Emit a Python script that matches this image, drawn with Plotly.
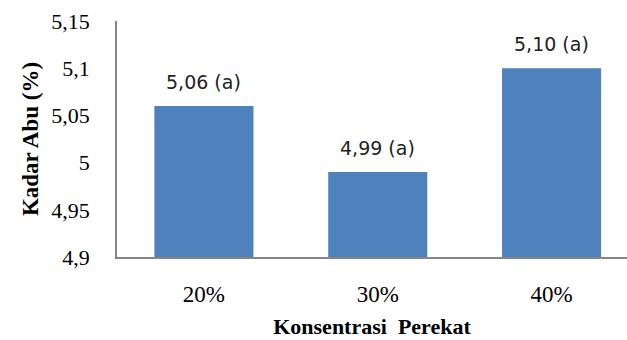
import plotly.graph_objects as go

categories = ["20%", "30%", "40%"]
values = [5.06, 4.99, 5.10]
labels = ["5,06 (a)", "4,99 (a)", "5,10 (a)"]
yticks = [4.9, 4.95, 5.0, 5.05, 5.1, 5.15]
yticktext = ["4,9", "4,95", "5", "5,05", "5,1", "5,15"]

fig = go.Figure()
fig.add_trace(go.Bar(x=categories, y=values, marker_color="#4F81BD",
                     marker_line_width=0, width=0.57))

for c, v, t in zip(categories, values, labels):
    fig.add_annotation(x=c, y=v, text=t, showarrow=False, yanchor="bottom",
                       yshift=11, font=dict(family="DejaVu Sans", size=19, color="#222"))

serif = "Liberation Serif"
fig.update_layout(
    width=627, height=340,
    margin=dict(l=117, r=0, t=21, b=83),
    plot_bgcolor="white", paper_bgcolor="white",
    showlegend=False,
    xaxis=dict(range=[-0.5, 2.434], showline=True, linecolor="#868686", linewidth=1.5,
               ticks="outside", ticklen=16, tickcolor="rgba(0,0,0,0)",
               tickfont=dict(family=serif, size=23, color="black"),
               title=dict(text="<b>Konsentrasi  Perekat</b>", font=dict(family=serif, size=22, color="black"), standoff=12),
               showgrid=False, mirror=False),
    yaxis=dict(range=[4.9, 5.15], showline=True, linecolor="#868686", linewidth=1.5,
               tickvals=yticks, ticktext=yticktext,
               ticks="outside", ticklen=21, tickcolor="rgba(0,0,0,0)",
               tickfont=dict(family=serif, size=22, color="black"),
               title=dict(text="<b>Kadar Abu (%)</b>", font=dict(family=serif, size=23, color="black"), standoff=6),
               showgrid=False, zeroline=False),
)
fig.write_html("out.html")
